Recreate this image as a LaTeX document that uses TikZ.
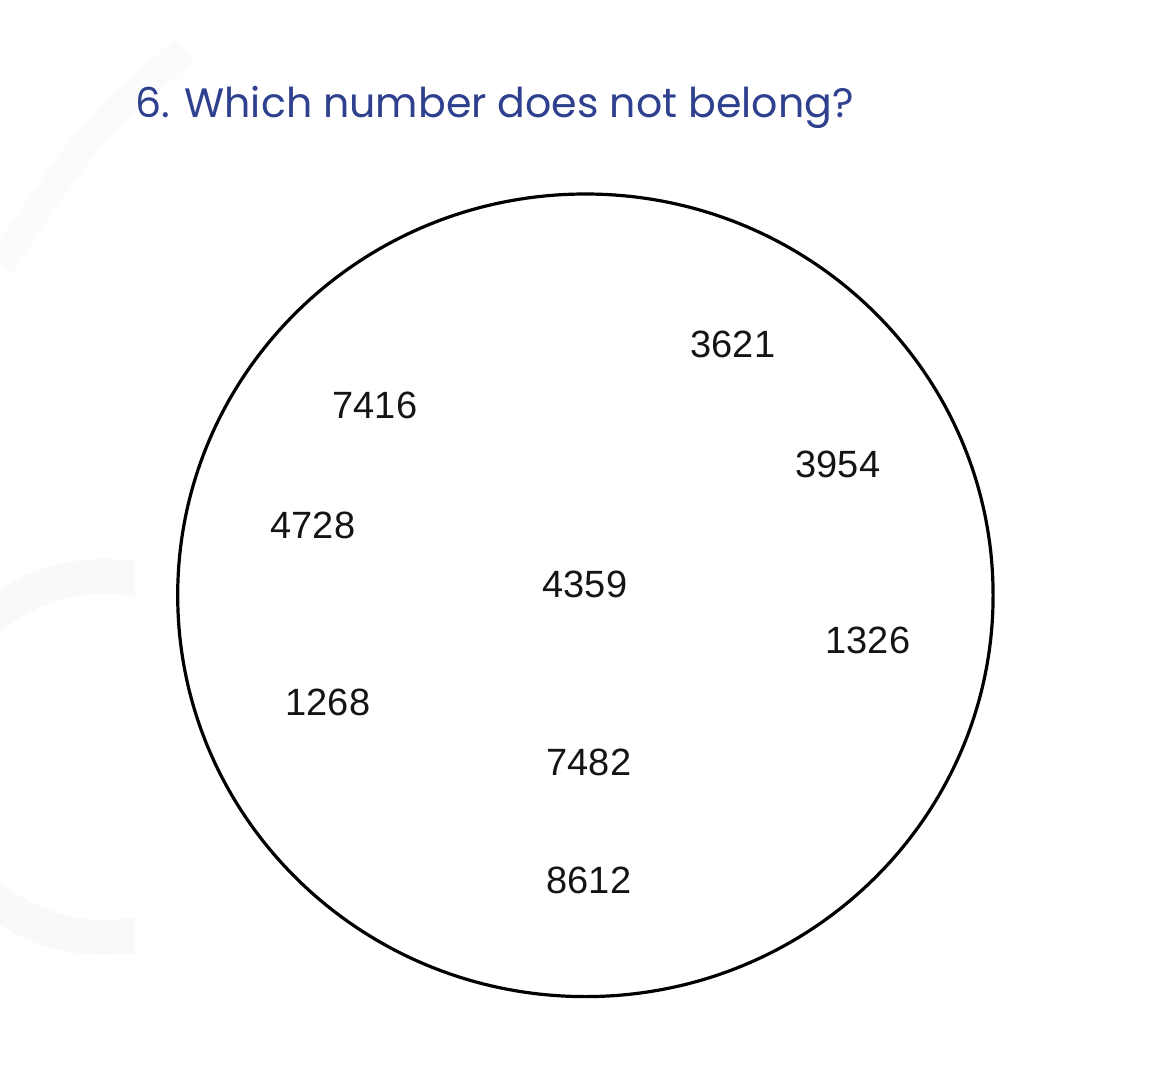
\documentclass[tikz,border=0pt]{standalone}
\usepackage{fontspec}
\newfontfamily\titlefont{Poppins}
\newfontfamily\numfont{Liberation Sans}
\definecolor{titleblue}{RGB}{46,64,142}
\begin{document}
\begin{tikzpicture}[x=1pt,y=-1pt,
  num/.style={font=\numfont\fontsize{38}{38}\selectfont, text=black!92, anchor=base, inner sep=0pt},
  ttl/.style={font=\titlefont\fontsize{41.1}{41.1}\selectfont, text=titleblue, anchor=base west, inner sep=0pt},
  faint/.style={black!2.5}]
\useasboundingbox (0,0) rectangle (1152,1084);
\fill[white] (0,0) rectangle (1152,1084);
% faint background decoration
\begin{scope}
  \clip (0,0) rectangle (135,1084);
  \fill[faint, even odd rule] (105,757) circle [radius=198pt] (105,757) circle [radius=163pt];
\end{scope}
\draw[black!1.5, line width=28pt] (185,50) .. controls (95,125) .. (0,265);
% title
\node[ttl] (title) at (135,117) {6. Which number does not belong?};
% circle
\draw[line width=3.2pt, black] (585.4,595.3) ellipse [x radius=407.7pt, y radius=401.3pt];
\coordinate (c) at (585.4,595.3);
% numbers
\node[num] (n7416) at (375,418) {7416};
\node[num] (n4728) at (313,538) {4728};
\node[num] (n4359) at (585,597) {4359};
\node[num] (n3621) at (733,357) {3621};
\node[num] (n3954) at (838,477) {3954};
\node[num] (n1326) at (868,653) {1326};
\node[num] (n1268) at (328,715) {1268};
\node[num] (n7482) at (589,775) {7482};
\node[num] (n8612) at (589,893) {8612};
\end{tikzpicture}
\end{document}
